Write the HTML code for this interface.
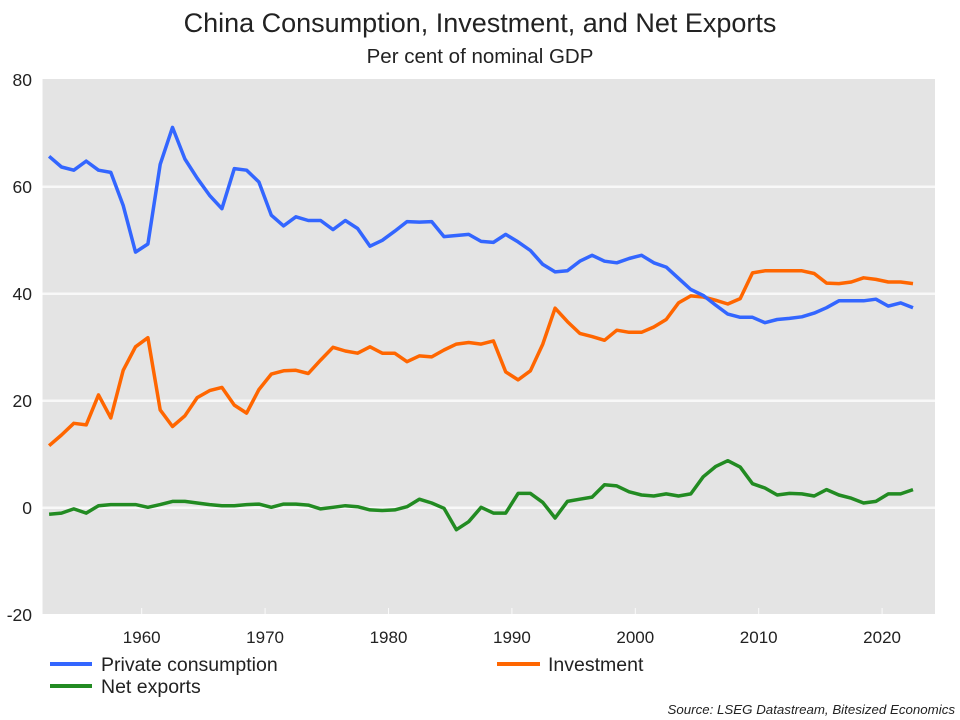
<!DOCTYPE html>
<html><head><meta charset="utf-8"><style>
body{margin:0;background:#fff;}
svg{display:block;font-family:"Liberation Sans",sans-serif;}
</style></head><body>
<svg id="chart" width="960" height="720">
<text x="480" y="32" text-anchor="middle" font-size="27" fill="#222">China Consumption, Investment, and Net Exports</text>
<text x="480" y="63" text-anchor="middle" font-size="20.5" fill="#222">Per cent of nominal GDP</text>
<rect x="42.5" y="79" width="892.5" height="535" fill="#e4e4e4"/>
<g id="grid"></g><g id="series"></g><g id="axes"></g>
<g>
<line x1="50" y1="664" x2="92" y2="664" stroke="#3366ff" stroke-width="4"/>
<text x="101" y="671" font-size="19.5" fill="#222">Private consumption</text>
<line x1="497" y1="664" x2="540" y2="664" stroke="#ff6600" stroke-width="4"/>
<text x="548" y="671" font-size="19.5" fill="#222">Investment</text>
<line x1="50" y1="686" x2="92" y2="686" stroke="#228b22" stroke-width="4"/>
<text x="101" y="693" font-size="19.5" fill="#222">Net exports</text>
</g>
<text x="955" y="714" text-anchor="end" font-size="13.3" font-style="italic" fill="#222">Source: LSEG Datastream, Bitesized Economics</text>
</svg>
<script>
const years = [];
for (let y = 1953; y <= 2023; y++) years.push(y);
const consumption = [65.7,63.7,63.1,64.8,63.1,62.7,56.5,47.8,49.3,64.2,71.1,65.2,61.6,58.4,55.9,63.4,63.1,60.9,54.7,52.7,54.4,53.7,53.7,52.0,53.7,
52.2,48.9,50.0,51.7,53.5,53.4,53.5,50.7,50.9,51.1,49.8,49.6,51.1,49.7,48.1,45.5,44.1,44.3,46.1,47.2,46.1,45.8,46.6,47.2,
45.8,45.0,42.9,40.8,39.7,37.9,36.2,35.6,35.6,34.6,35.2,35.4,35.7,36.4,37.4,38.7,38.7,38.7,39.0,37.7,38.3,37.4];
const investment = [11.6,13.6,15.8,15.5,21.1,16.8,25.7,30.1,31.8,18.3,15.2,17.2,20.6,21.9,22.5,19.2,17.7,22.1,25.0,25.6,25.7,25.1,27.6,30.0,29.3,
28.9,30.1,28.9,28.9,27.3,28.4,28.2,29.5,30.6,30.9,30.6,31.2,25.4,23.9,25.6,30.6,37.3,34.8,32.6,32.0,31.3,33.2,32.8,32.8,
33.8,35.2,38.3,39.6,39.4,38.8,38.1,39.1,43.9,44.3,44.3,44.3,44.3,43.8,42.0,41.9,42.2,43.0,42.7,42.2,42.2,41.9];
const netExports = [-1.2,-1.0,-0.2,-1.0,0.4,0.6,0.6,0.6,0.1,0.6,1.2,1.2,0.9,0.6,0.4,0.4,0.6,0.7,0.1,0.7,0.7,0.5,-0.2,0.1,0.4,
0.2,-0.4,-0.5,-0.4,0.2,1.6,0.9,-0.1,-4.1,-2.6,0.1,-1.0,-1.0,2.7,2.7,1.0,-1.9,1.2,1.6,2.0,4.3,4.1,3.0,2.4,2.2,
2.6,2.2,2.6,5.8,7.7,8.8,7.6,4.5,3.7,2.4,2.7,2.6,2.2,3.4,2.4,1.8,0.9,1.2,2.6,2.6,3.4];
const yTicks = [80,60,40,20,0,-20];
const xTicks = [1960,1970,1980,1990,2000,2010,2020];

const NS = "http://www.w3.org/2000/svg";
const X = yr => 141.7 + (yr - 1960) * 12.34;
const XP = yr => X(yr - 0.5);
const Y = v => 507.8 - v * 5.35;
function mk(tag, attrs, parent) {
  const e = document.createElementNS(NS, tag);
  for (const k in attrs) e.setAttribute(k, attrs[k]);
  parent.appendChild(e);
  return e;
}
const grid = document.getElementById('grid');
const axes = document.getElementById('axes');
const series = document.getElementById('series');
yTicks.forEach(t => {
  if (t !== 80 && t !== -20) {
    const l = mk('line', {x1:42.5, x2:935, y1:Y(t), y2:Y(t), stroke:'#f8f8f8', 'stroke-width':2.5}, grid);
    
    
  }
  const tx = mk('text', {x:32, y:Y(t)+6, 'text-anchor':'end', 'font-size':17.5, fill:'#222'}, axes);
  tx.textContent = t;
  
  
});
xTicks.forEach(t => {
  const m = mk('line', {x1:X(t), x2:X(t), y1:608, y2:614, stroke:'#fafafa', 'stroke-width':1}, axes);
  
  
  const tx = mk('text', {x:X(t), y:643, 'text-anchor':'middle', 'font-size':17, fill:'#222'}, axes);
  tx.textContent = t;
  
  
});
function line(vals, color, name) {
  const pts = vals.map((v, i) => XP(years[i]).toFixed(1) + ',' + Y(v).toFixed(1)).join(' ');
  const p = mk('polyline', {points:pts, fill:'none', stroke:color, 'stroke-width':3.5, 'stroke-linejoin':'round'}, series);
  
  
}
line(netExports, '#228b22', 'net-exports-line');
line(investment, '#ff6600', 'investment-line');
line(consumption, '#3366ff', 'private-consumption-line');
</script>
</body></html>
